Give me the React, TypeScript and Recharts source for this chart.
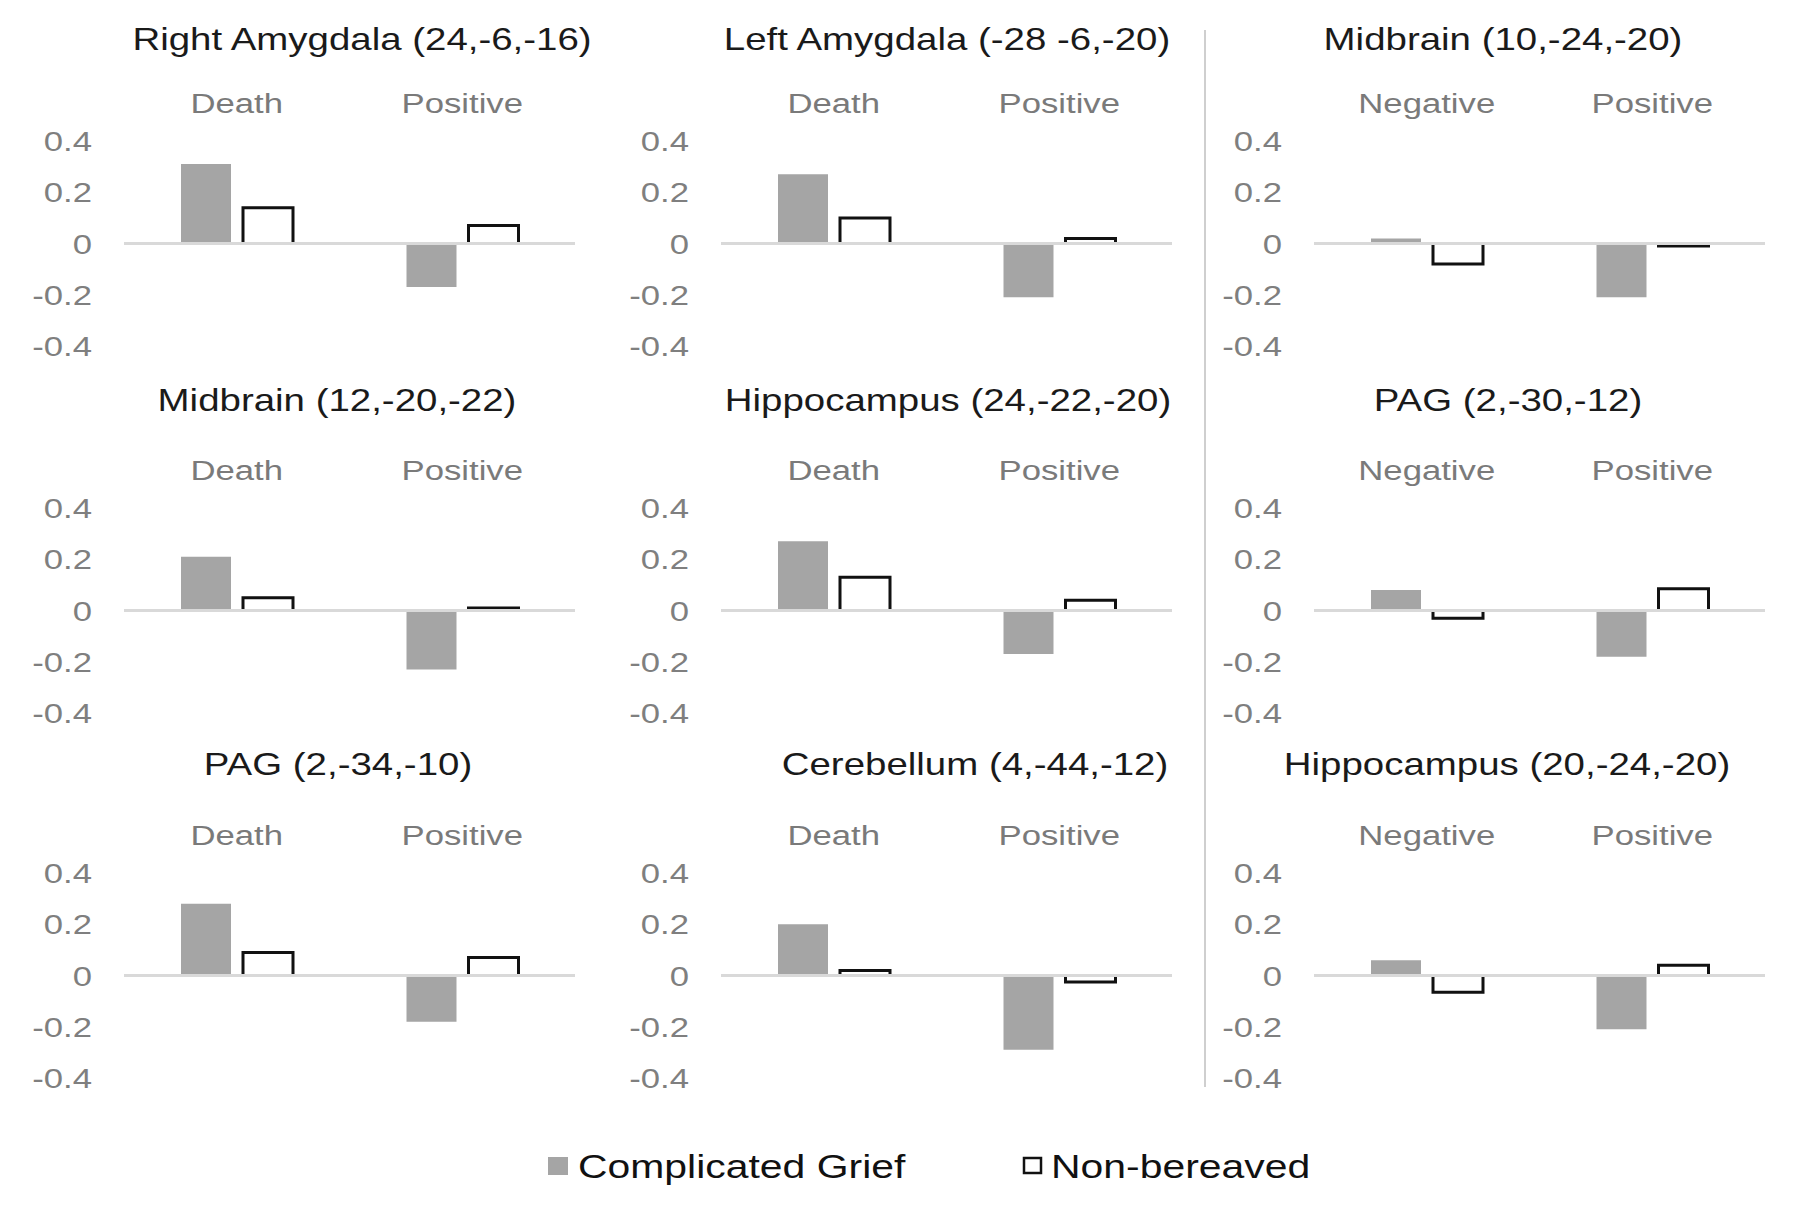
import React from "react";
import { BarChart, Bar, XAxis, YAxis, ReferenceLine } from "recharts";

// ---------- data ----------
const panelTitles = [
  "Right Amygdala (24,-6,-16)",
  "Left Amygdala (-28 -6,-20)",
  "Midbrain (10,-24,-20)",
  "Midbrain (12,-20,-22)",
  "Hippocampus (24,-22,-20)",
  "PAG (2,-30,-12)",
  "PAG (2,-34,-10)",
  "Cerebellum (4,-44,-12)",
  "Hippocampus (20,-24,-20)",
];
const deathCategories = ["Death", "Positive"];
const negativeCategories = ["Negative", "Positive"];
const panelCategories = [
  deathCategories, deathCategories, negativeCategories,
  deathCategories, deathCategories, negativeCategories,
  deathCategories, deathCategories, negativeCategories,
];
const complicatedGrief = [
  [0.31, -0.17],
  [0.27, -0.21],
  [0.02, -0.21],
  [0.21, -0.23],
  [0.27, -0.17],
  [0.08, -0.18],
  [0.28, -0.18],
  [0.2, -0.29],
  [0.06, -0.21],
];
const nonBereaved = [
  [0.14, 0.07],
  [0.1, 0.02],
  [-0.08, -0.01],
  [0.05, 0.01],
  [0.13, 0.04],
  [-0.03, 0.085],
  [0.09, 0.07],
  [0.02, -0.025],
  [-0.065, 0.04],
];
const yTicks = [-0.4, -0.2, 0, 0.2, 0.4];
const legendLabels = ["Complicated Grief", "Non-bereaved"];

// ---------- layout / style ----------
const FONT = '"Liberation Sans", Arial, sans-serif';
const SX = 1.24;
const CG_COLOR = "#a5a5a5";
const colPlotLeft = [124, 721, 1314];
const rowPlotTop = [141, 508, 873];
const PLOT_W = 451;
const PLOT_H = 205;
const AXIS_W = 100;
const TOP_H = 80;
const BOTTOM_M = 30;
const titleCenters = [362, 947, 1503, 337, 948, 1508, 338, 975, 1507];
const titleBaselines = [50, 411, 775];

const YTick = (props: any) => {
  const { x, y, payload } = props;
  const v = payload.value;
  const label = v === 0 ? "0" : Number(v).toFixed(1);
  return (
    <text
      transform={`translate(${x},${y}) scale(${SX},1)`}
      textAnchor="end"
      dy="0.36em"
      fill="#7f7f7f"
      fontSize={28}
      fontFamily={FONT}
    >
      {label}
    </text>
  );
};

const XTick = (props: any) => {
  const { x, y, payload } = props;
  return (
    <text
      transform={`translate(${x},${y - 28}) scale(${SX},1)`}
      textAnchor="middle"
      fill="#7a7a7a"
      fontSize={28}
      fontFamily={FONT}
    >
      {payload.value}
    </text>
  );
};

const OutlineBar = (props: any) => {
  const { x, y, width, height, payload } = props;
  if (x == null || y == null) return null;
  const top = Math.min(y, y + height);
  const bottom = Math.max(y, y + height);
  const v = payload ? payload.nb : 0;
  const neg = v < 0;
  const d = neg
    ? `M${x},${top} L${x},${bottom} L${x + width},${bottom} L${x + width},${top}`
    : `M${x},${bottom} L${x},${top} L${x + width},${top} L${x + width},${bottom}`;
  return (
    <g>
      <rect x={x} y={top} width={width} height={bottom - top} fill="#ffffff" />
      <path d={d} fill="none" stroke="#111111" strokeWidth={3} strokeLinejoin="miter" />
    </g>
  );
};

const Panel = ({ index }: { index: number }) => {
  const col = index % 3;
  const row = Math.floor(index / 3);
  const data = panelCategories[index].map((cat, i) => ({
    cat,
    cg: complicatedGrief[index][i],
    nb: nonBereaved[index][i],
  }));
  return (
    <div
      style={{
        position: "absolute",
        left: colPlotLeft[col] - AXIS_W,
        top: rowPlotTop[row] - TOP_H,
      }}
    >
      <BarChart
        width={AXIS_W + PLOT_W + 10}
        height={TOP_H + PLOT_H + BOTTOM_M}
        data={data}
        margin={{ top: 0, right: 10, bottom: BOTTOM_M, left: 0 }}
        barGap={12}
      >
        <XAxis
          dataKey="cat"
          orientation="top"
          height={TOP_H}
          axisLine={false}
          tickLine={false}
          tickSize={0}
          tickMargin={0}
          interval={0}
          tick={<XTick />}
        />
        <YAxis
          type="number"
          domain={[-0.4, 0.4]}
          ticks={yTicks}
          width={AXIS_W}
          axisLine={false}
          tickLine={false}
          tickSize={0}
          tickMargin={32}
          tick={<YTick />}
          allowDataOverflow
        />
        <Bar dataKey="cg" fill={CG_COLOR} barSize={50} isAnimationActive={false} />
        <Bar dataKey="nb" barSize={50} shape={<OutlineBar />} isAnimationActive={false} />
        <ReferenceLine y={0} stroke="#d9d9d9" strokeWidth={3} />
      </BarChart>
    </div>
  );
};

export default function App() {
  return (
    <div
      style={{
        position: "relative",
        width: 1794,
        height: 1209,
        background: "#ffffff",
        overflow: "hidden",
      }}
    >
      <style>{"body{margin:0;}"}</style>
      {panelTitles.map((_, i) => (
        <Panel key={i} index={i} />
      ))}
      <svg
        width={1794}
        height={1209}
        style={{ position: "absolute", left: 0, top: 0, pointerEvents: "none" }}
      >
        <line x1={1205} y1={30} x2={1205} y2={1087} stroke="#cfcfcf" strokeWidth={2} />
        {panelTitles.map((t, i) => (
          <text
            key={i}
            transform={`translate(${titleCenters[i]},${titleBaselines[Math.floor(i / 3)]}) scale(${SX},1)`}
            textAnchor="middle"
            fill="#1a1a1a"
            fontSize={31}
            fontFamily={FONT}
          >
            {t}
          </text>
        ))}
        <rect x={548} y={1157} width={20} height={18} fill={CG_COLOR} />
        <text
          transform={`translate(578,1178) scale(${SX},1)`}
          fill="#111111"
          fontSize={33}
          fontFamily={FONT}
        >
          {legendLabels[0]}
        </text>
        <rect x={1024} y={1158} width={17} height={15} fill="#ffffff" stroke="#111111" strokeWidth={2.5} />
        <text
          transform={`translate(1051,1178) scale(${SX},1)`}
          fill="#111111"
          fontSize={33}
          fontFamily={FONT}
        >
          {legendLabels[1]}
        </text>
      </svg>
    </div>
  );
}
